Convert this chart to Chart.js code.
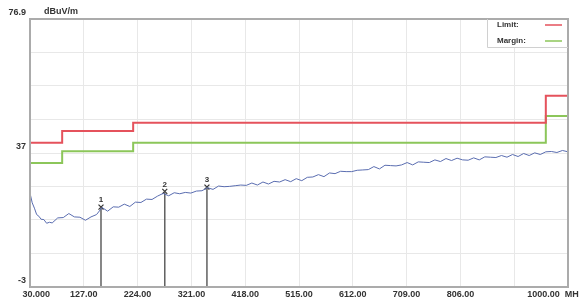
<!DOCTYPE html>
<html>
<head>
<meta charset="utf-8">
<script src="https://cdn.jsdelivr.net/npm/chart.js@4.4.0/dist/chart.umd.min.js"></script>
<style>
  html, body { margin: 0; padding: 0; background: #fff; }
  #wrap { width: 582px; height: 300px; }
</style>
</head>
<body>
<div id="wrap"><canvas id="emc"></canvas></div>
<script>
// measured trace (MHz / dBuV/m)
const traceFreqs = [
  30, 34, 38, 42, 46, 50, 55, 60, 65, 70,
  80, 90, 100, 110, 120, 130, 140, 150, 160, 170,
  180, 190, 200, 210, 220, 230, 240, 250, 260, 270,
  280, 290, 300, 310, 320, 330, 340, 350, 360, 370,
  380, 390, 400, 410, 420, 430, 440, 450, 460, 470,
  480, 490, 500, 510, 520, 530, 540, 550, 560, 570,
  580, 590, 600, 610, 620, 630, 640, 650, 660, 670,
  680, 690, 700, 710, 720, 730, 740, 750, 760, 770,
  780, 790, 800, 810, 820, 830, 840, 850, 860, 870,
  880, 890, 900, 910, 920, 930, 940, 950, 960, 970,
  980, 990, 1000
];
const traceLevels = [
  25.0, 22.1, 20.5, 18.6, 18.1, 17.2, 17.1, 16.0, 16.3, 16.1,
  17.6, 17.7, 18.9, 17.9, 17.8, 16.9, 17.9, 18.6, 20.7, 19.6,
  20.9, 20.8, 21.7, 21.0, 22.3, 22.2, 23.2, 23.1, 24.1, 24.9,
  24.2, 25.1, 24.8, 25.2, 25.0, 25.6, 25.7, 26.6, 26.1, 27.1,
  26.9, 27.0, 27.2, 27.4, 27.3, 28.0, 27.4, 28.3, 27.7, 28.5,
  28.3, 29.0, 28.4, 29.3, 28.7, 29.7, 29.8, 30.5, 29.9, 31.0,
  30.8, 31.5, 31.4, 31.4, 31.8, 31.9, 32.0, 32.9, 32.2, 33.3,
  33.2, 33.1, 33.4, 34.1, 33.4, 34.3, 34.2, 34.1, 34.9, 34.4,
  35.3, 34.7, 35.4, 34.9, 34.8, 35.5, 34.9, 35.8, 35.7, 35.6,
  36.2, 35.7, 36.5, 35.9, 36.8, 36.2, 37.0, 36.5, 37.3, 37.4,
  37.1, 37.7, 37.3
];

// limit / margin steps
const limitFreqs = [30, 88, 216, 960, 1000];
const limitLevels = [40, 43.5, 46, 54, 54];
const marginLevels = [34, 37.5, 40, 48, 48];

// markers
const markerNames = ['1', '2', '3'];
const markerFreqs = [158, 273, 349];
const markerLevels = [20.8, 25.5, 26.8];

// axes
const xTickValues = [30, 127, 224, 321, 418, 515, 612, 709, 806, 903, 1000];
const xTickLabels = ['     30.000', '127.00', '224.00', '321.00', '418.00', '515.00', '612.00', '709.00', '806.00', '', '1000.00  MH            '];
const yTickValues = [-3, 6.99, 16.98, 26.96, 36.95, 46.94, 56.93, 66.91, 76.9];
const yTickLabels = ['-3', '', '', '', '37', '', '', '', '76.9'];
const yUnit = 'dBuV/m';

const toXY = (xs, ys) => xs.map((x, i) => ({ x: x, y: ys[i] }));

const dropLines = [];
markerFreqs.forEach((f, i) => {
  dropLines.push({ x: f, y: markerLevels[i] });
  dropLines.push({ x: f, y: -3 });
  dropLines.push({ x: f, y: null });
});

const fontTick = { family: 'Liberation Sans, Arial, sans-serif', size: 9, weight: 'bold' };

const extras = {
  id: 'extras',
  beforeDatasetsDraw(chart) {
    const ctx = chart.ctx;
    ctx.save();
    ctx.fillStyle = '#333';
    ctx.font = 'bold 9px Liberation Sans, Arial, sans-serif';
    ctx.textBaseline = 'middle';
    ctx.fillText(yUnit, 44, 12);
    ctx.restore();
  },
  afterDraw(chart) {
    const ctx = chart.ctx, a = chart.chartArea;
    ctx.save();
    // frame
    ctx.strokeStyle = '#ababab';
    ctx.lineWidth = 2;
    ctx.strokeRect(a.left, a.top, a.right - a.left, a.bottom - a.top);
    // legend box
    const lx = 487, ly = a.top, lw = a.right - 487, lh = 28;
    ctx.fillStyle = '#fff';
    ctx.fillRect(lx, ly + 1, lw - 1, lh);
    ctx.strokeStyle = '#d0d0d0';
    ctx.lineWidth = 1;
    ctx.beginPath();
    ctx.moveTo(lx + 0.5, ly);
    ctx.lineTo(lx + 0.5, ly + lh + 0.5);
    ctx.lineTo(a.right, ly + lh + 0.5);
    ctx.stroke();
    ctx.font = 'bold 8px Liberation Sans, Arial, sans-serif';
    ctx.textBaseline = 'middle';
    [0, 1].forEach(i => {
      const ds = chart.data.datasets[i];
      const yy = ly + 6 + i * 16;
      ctx.fillStyle = '#333';
      ctx.fillText(ds.label + ':', 497, yy);
      ctx.strokeStyle = ds.borderColor;
      ctx.lineWidth = 1.5;
      ctx.beginPath();
      ctx.moveTo(545, yy);
      ctx.lineTo(562, yy);
      ctx.stroke();
    });
    // marker numbers
    const meta = chart.getDatasetMeta(4);
    ctx.fillStyle = '#333';
    ctx.font = 'bold 8px Liberation Sans, Arial, sans-serif';
    ctx.textAlign = 'center';
    meta.data.forEach((p, i) => {
      ctx.fillText(markerNames[i], p.x, p.y - 7);
    });
    ctx.restore();
  }
};

new Chart(document.getElementById('emc'), {
  type: 'line',
  data: {
    datasets: [
      {
        label: 'Limit',
        data: toXY(limitFreqs, limitLevels),
        borderColor: '#e5525c',
        borderWidth: 2,
        stepped: true,
        pointRadius: 0
      },
      {
        label: 'Margin',
        data: toXY(limitFreqs, marginLevels),
        borderColor: '#8cc65a',
        borderWidth: 2,
        stepped: true,
        pointRadius: 0
      },
      {
        label: 'Trace',
        data: toXY(traceFreqs, traceLevels),
        borderColor: '#5a6db0',
        borderWidth: 1,
        pointRadius: 0,
        tension: 0
      },
      {
        label: 'Drop',
        data: dropLines,
        borderColor: '#606060',
        borderWidth: 1.5,
        pointRadius: 0,
        spanGaps: false
      },
      {
        label: 'Markers',
        data: toXY(markerFreqs, markerLevels),
        showLine: false,
        pointStyle: 'crossRot',
        pointRadius: 3.5,
        borderColor: '#333',
        borderWidth: 1.2
      }
    ]
  },
  options: {
    responsive: true,
    maintainAspectRatio: false,
    animation: false,
    events: [],
    layout: { padding: { top: 19, right: 14, left: 0, bottom: 0 } },
    plugins: { legend: { display: false }, tooltip: { enabled: false } },
    scales: {
      x: {
        type: 'linear',
        min: 30,
        max: 1000,
        afterBuildTicks: s => { s.ticks = xTickValues.map(v => ({ value: v })); },
        afterFit: s => { s.height = 13; s.paddingLeft = 0; s.paddingRight = 0; },
        grid: { color: '#e8e8e8', drawTicks: false },
        border: { display: false },
        ticks: {
          autoSkip: false,
          maxRotation: 0,
          padding: 2,
          color: '#333',
          font: fontTick,
          callback: (v, i) => xTickLabels[i]
        }
      },
      y: {
        min: -3,
        max: 76.9,
        afterBuildTicks: s => { s.ticks = yTickValues.map(v => ({ value: v })); },
        afterFit: s => { s.width = 30; s.paddingTop = 0; s.paddingBottom = 0; },
        grid: { color: '#e8e8e8', drawTicks: false },
        border: { display: false },
        ticks: {
          autoSkip: false,
          padding: 4,
          labelOffset: -6,
          color: '#333',
          font: fontTick,
          callback: (v, i) => yTickLabels[i]
        }
      }
    }
  },
  plugins: [extras]
});
</script>
</body>
</html>
